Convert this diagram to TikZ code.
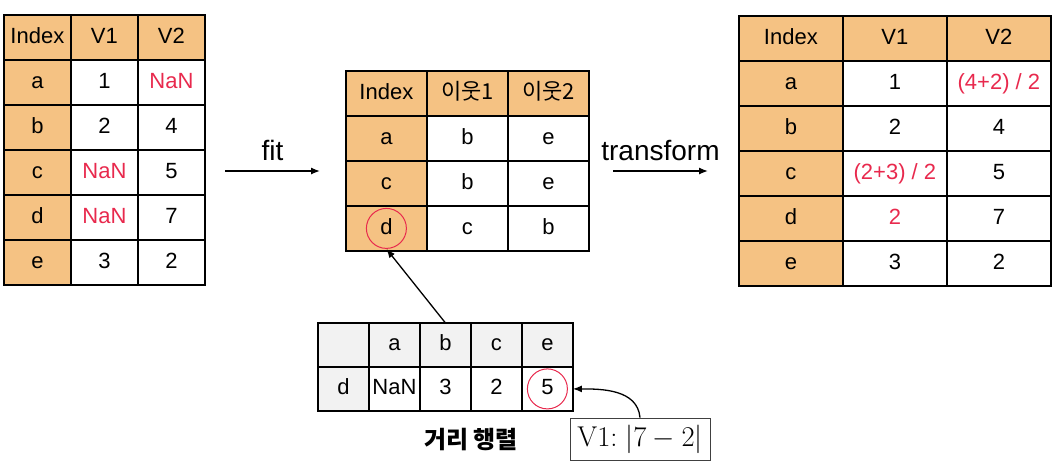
\documentclass[tikz,border=0pt]{standalone}
\usepackage[no-math]{fontspec}
\setmainfont{Liberation Sans}
\newfontfamily\kor{Noto Sans CJK KR}
\usetikzlibrary{matrix,arrows.meta,positioning}
\definecolor{idxorange}{HTML}{F5C283}
\definecolor{hlred}{HTML}{E8294D}
\definecolor{hdgray}{HTML}{F2F2F2}
\newcommand{\hl}[1]{\textcolor{hlred}{#1}}
\tikzset{
  tcell/.style={draw, line width=1.8pt, inner sep=0pt,
                minimum height=45pt, text height=16pt, text depth=4pt,
                anchor=center, font=\fontsize{22}{26}\selectfont},
  tbl/.style={matrix of nodes, nodes in empty cells,
              nodes={tcell, minimum width=#1},
              column sep=-1.8pt, row sep=-1.8pt,
              inner sep=0pt, outer sep=0pt, anchor=north west},
  otbl/.style={tbl=#1,
               row 1/.style={nodes={fill=idxorange}},
               column 1/.style={nodes={fill=idxorange}}},
  gtbl/.style={tbl=#1, nodes={minimum height=44pt},
               row 1/.style={nodes={fill=hdgray}},
               column 1/.style={nodes={fill=hdgray}}},
  ring/.style={circle, draw=hlred, line width=1pt, minimum size=40pt, inner sep=0pt},
  sarr/.style={-{Latex[length=9pt, width=7pt]}, line width=1.3pt, black},
  lbl/.style={font=\fontsize{28}{32}\selectfont, inner sep=0pt},
  vbox/.style={draw=black!75, line width=0.8pt, fill=white,
               minimum width=140pt, minimum height=42pt, inner sep=0pt,
               font=\fontsize{24}{28}\selectfont}
}
\begin{document}
\begin{tikzpicture}[x=1pt, y=-1pt]
\useasboundingbox (0,0) rectangle (1058,467);
% raw data
\matrix (raw) at (3,14) [otbl=67pt] {
Index & V1 & V2 \\
a & 1 & \hl{NaN} \\
b & 2 & 4 \\
c & \hl{NaN} & 5 \\
d & \hl{NaN} & 7 \\
e & 3 & 2 \\
};
% neighbours found by fit
\matrix (nbr) at (345,70) [otbl=81pt] {
Index & {\kor 이웃1} & {\kor 이웃2} \\
a & b & e \\
c & b & e \\
d & c & b \\
};
% imputed result
\matrix (imp) at (738,15) [otbl=104pt] {
Index & V1 & V2 \\
a & 1 & \hl{(4+2) / 2} \\
b & 2 & 4 \\
c & \hl{(2+3) / 2} & 5 \\
d & \hl{2} & 7 \\
e & 3 & 2 \\
};
% distance matrix
\matrix (dist) at (317,322) [gtbl=51pt] {
 & a & b & c & e \\
d & NaN & 3 & 2 & 5 \\
};
\node[font=\kor\bfseries\fontsize{24}{28}\selectfont] (distcap) at (471,440) {거리 행렬};
\node[ring] (dring) at (nbr-4-1) {};
\node[ring] (ering) at (dist-2-5) {};
\node[vbox] (calc) at (640,439) {\scalebox{1.15}{$\mathrm{V1}{:}\;|7-2|$}};
\coordinate (fitA) at (225,171);
\coordinate (fitB) at (320,171);
\coordinate (trA) at (613,171);
\coordinate (trB) at (708,171);
\draw[sarr] (fitA) -- node[lbl, above=10pt] (fitlbl) {fit} (fitB);
\draw[sarr] (trA) -- node[lbl, above=10pt] (trlbl) {transform} (trB);
\draw[sarr] (dist-1-3.north) -- (dring.south);
\draw[sarr] (calc.north) to[out=95, in=0] (dist-2-5.east);
\end{tikzpicture}
\end{document}
